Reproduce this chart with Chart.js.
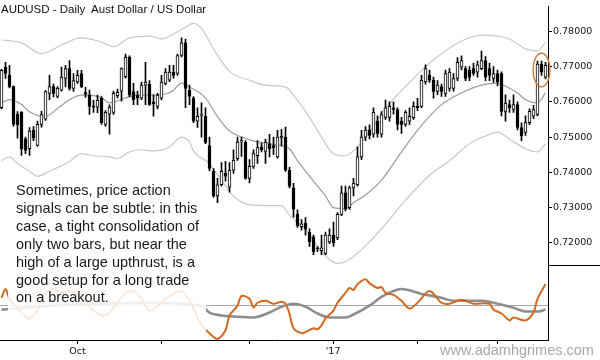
<!DOCTYPE html>
<html>
<head>
<meta charset="utf-8">
<script src="https://cdn.jsdelivr.net/npm/chart.js@4.4.0/dist/chart.umd.min.js"></script>
<style>
  html, body { margin: 0; padding: 0; background: #fff; }
  #wrap { position: relative; width: 600px; height: 360px; }
  #title { position: absolute; left: 1px; top: 3px; font: 11.5px/12px "Liberation Sans", Arial, sans-serif; color: #111; white-space: pre; }
  #note { position: absolute; left: 8px; top: 177px; width: 198px; height: 160px; box-sizing: border-box;
          padding: 5px 0 0 8px; background: rgba(255,255,255,0.86);
          font: 14.5px/17.9px "Liberation Sans", Arial, sans-serif; color: #1a1a1a; }
  #site { position: absolute; left: 440px; top: 342px; font: 14.5px/16px "Liberation Sans", Arial, sans-serif; color: #a8a8a8; }
</style>
</head>
<body>
<div id="wrap">
  <canvas id="audChart" width="600" height="360"></canvas>
  <div id="title">AUDUSD - Daily  Aust Dollar / US Dollar</div>
  <div id="note">Sometimes, price action<br>signals can be subtle: in this<br>case, a tight consolidation of<br>only two bars, but near the<br>high of a large upthrust, is a<br>good setup for a long trade<br>on a breakout.</div>
  <div id="site">www.adamhgrimes.com</div>
</div>
<script>
// daily bars, index 0 = first bar on the left
const opens = [
  0.7583,0.7698,0.7675,0.7643,0.7565,0.7570,0.7495,0.7467,0.7520,0.7476,
  0.7536,0.7551,0.7624,0.7643,0.7615,0.7633,0.7666,0.7694,0.7638,0.7656,
  0.7680,0.7626,0.7619,0.7588,0.7585,0.7610,0.7536,0.7565,0.7570,0.7617,
  0.7630,0.7671,0.7726,0.7629,0.7619,0.7610,0.7647,0.7650,0.7600,0.7587,
  0.7610,0.7652,0.7661,0.7684,0.7680,0.7731,0.7767,0.7633,0.7610,0.7545,
  0.7561,0.7559,0.7476,0.7403,0.7333,0.7365,0.7397,0.7358,0.7406,0.7439,
  0.7486,0.7486,0.7383,0.7417,0.7447,0.7472,0.7459,0.7481,0.7476,0.7444,
  0.7497,0.7500,0.7406,0.7356,0.7281,0.7246,0.7256,0.7231,0.7217,0.7186,
  0.7178,0.7170,0.7203,0.7222,0.7214,0.7281,0.7342,0.7300,0.7356,0.7365,
  0.7444,0.7500,0.7520,0.7508,0.7545,0.7508,0.7556,0.7556,0.7583,0.7578,
  0.7545,0.7536,0.7545,0.7555,0.7587,0.7587,0.7656,0.7675,0.7661,0.7629,
  0.7643,0.7624,0.7638,0.7638,0.7666,0.7698,0.7694,0.7689,0.7694,0.7684,
  0.7694,0.7717,0.7694,0.7666,0.7680,0.7680,0.7573,0.7592,0.7578,0.7592,
  0.7527,0.7513,0.7541,0.7559,0.7564,0.7707,0.7670
];
const highs = [
  0.7692,0.7712,0.7703,0.7645,0.7572,0.7572,0.7500,0.7527,0.7530,0.7545,
  0.7573,0.7632,0.7675,0.7650,0.7643,0.7698,0.7703,0.7717,0.7680,0.7689,
  0.7689,0.7641,0.7633,0.7604,0.7619,0.7615,0.7575,0.7591,0.7630,0.7636,
  0.7696,0.7735,0.7730,0.7652,0.7630,0.7656,0.7712,0.7660,0.7620,0.7624,
  0.7675,0.7694,0.7703,0.7703,0.7735,0.7781,0.7778,0.7647,0.7615,0.7583,
  0.7597,0.7583,0.7500,0.7411,0.7383,0.7428,0.7431,0.7428,0.7464,0.7500,
  0.7500,0.7490,0.7436,0.7464,0.7490,0.7483,0.7494,0.7508,0.7500,0.7519,
  0.7522,0.7528,0.7414,0.7369,0.7294,0.7266,0.7272,0.7240,0.7222,0.7190,
  0.7222,0.7231,0.7240,0.7259,0.7286,0.7361,0.7361,0.7361,0.7383,0.7472,
  0.7519,0.7530,0.7535,0.7583,0.7560,0.7572,0.7605,0.7600,0.7600,0.7583,
  0.7556,0.7575,0.7583,0.7600,0.7610,0.7675,0.7705,0.7690,0.7670,0.7660,
  0.7650,0.7690,0.7694,0.7680,0.7725,0.7730,0.7700,0.7700,0.7710,0.7715,
  0.7744,0.7728,0.7710,0.7700,0.7690,0.7685,0.7620,0.7605,0.7620,0.7600,
  0.7540,0.7560,0.7580,0.7590,0.7715,0.7715,0.7712
];
const lows = [
  0.7580,0.7666,0.7639,0.7530,0.7497,0.7448,0.7453,0.7448,0.7490,0.7474,
  0.7528,0.7547,0.7606,0.7614,0.7611,0.7630,0.7642,0.7633,0.7629,0.7652,
  0.7640,0.7612,0.7564,0.7570,0.7569,0.7536,0.7530,0.7508,0.7564,0.7611,
  0.7602,0.7667,0.7614,0.7592,0.7592,0.7606,0.7592,0.7590,0.7559,0.7580,
  0.7605,0.7648,0.7657,0.7666,0.7675,0.7727,0.7583,0.7592,0.7541,0.7527,
  0.7500,0.7481,0.7404,0.7329,0.7314,0.7361,0.7375,0.7344,0.7397,0.7434,
  0.7445,0.7381,0.7370,0.7411,0.7425,0.7458,0.7425,0.7444,0.7450,0.7440,
  0.7475,0.7403,0.7356,0.7273,0.7244,0.7236,0.7222,0.7190,0.7167,0.7175,
  0.7167,0.7167,0.7198,0.7190,0.7209,0.7277,0.7291,0.7295,0.7333,0.7361,
  0.7436,0.7490,0.7495,0.7500,0.7500,0.7500,0.7550,0.7545,0.7565,0.7520,
  0.7510,0.7530,0.7535,0.7550,0.7575,0.7583,0.7650,0.7655,0.7610,0.7620,
  0.7615,0.7615,0.7630,0.7630,0.7660,0.7690,0.7660,0.7660,0.7675,0.7670,
  0.7690,0.7660,0.7660,0.7655,0.7645,0.7560,0.7545,0.7570,0.7570,0.7520,
  0.7490,0.7505,0.7535,0.7552,0.7560,0.7675,0.7665
];
const closes = [
  0.7689,0.7680,0.7643,0.7536,0.7535,0.7467,0.7462,0.7517,0.7497,0.7536,
  0.7564,0.7629,0.7643,0.7624,0.7638,0.7670,0.7694,0.7638,0.7660,0.7675,
  0.7643,0.7622,0.7587,0.7585,0.7604,0.7541,0.7570,0.7585,0.7624,0.7627,
  0.7694,0.7726,0.7619,0.7606,0.7610,0.7647,0.7656,0.7592,0.7594,0.7619,
  0.7656,0.7684,0.7684,0.7675,0.7731,0.7767,0.7638,0.7615,0.7545,0.7559,
  0.7565,0.7485,0.7411,0.7333,0.7365,0.7403,0.7389,0.7406,0.7434,0.7486,
  0.7490,0.7383,0.7417,0.7453,0.7470,0.7464,0.7486,0.7467,0.7470,0.7500,
  0.7502,0.7406,0.7361,0.7296,0.7249,0.7254,0.7239,0.7203,0.7175,0.7183,
  0.7186,0.7222,0.7222,0.7200,0.7281,0.7342,0.7296,0.7356,0.7369,0.7444,
  0.7500,0.7520,0.7505,0.7570,0.7510,0.7564,0.7583,0.7587,0.7578,0.7536,
  0.7536,0.7570,0.7559,0.7587,0.7583,0.7661,0.7694,0.7661,0.7629,0.7647,
  0.7629,0.7680,0.7684,0.7666,0.7712,0.7717,0.7666,0.7670,0.7680,0.7705,
  0.7717,0.7670,0.7675,0.7680,0.7656,0.7573,0.7596,0.7583,0.7592,0.7527,
  0.7504,0.7541,0.7573,0.7578,0.7707,0.7684,0.7703
];

// bands: [bar index, price]
const upperBand = [[0,0.7775],[5,0.7767],[10,0.7736],[15,0.7761],[20,0.7781],[25,0.7769],[28,0.7756],
  [32,0.7781],[37,0.7786],[40,0.7778],[43,0.7792],[46,0.7811],[48,0.7822],[50,0.7808],[53,0.7750],
  [57,0.7686],[62,0.7661],[66,0.7647],[71,0.7642],[73,0.7619],[77,0.7556],[80,0.7500],[83,0.7453],
  [86,0.7447],[88,0.7461],[91,0.7500],[93,0.7531],[96,0.7583],[100,0.7631],[105,0.7689],[110,0.7736],
  [115,0.7772],[120,0.7789],[124,0.7786],[127,0.7778],[131,0.7750],[134,0.7744],[136,0.7769]];
const midBand = [[0,0.7597],[2,0.7606],[5,0.7592],[7,0.7572],[11,0.7558],[14,0.7581],[17,0.7606],
  [20,0.7619],[22,0.7619],[25,0.7611],[27,0.7597],[31,0.7611],[34,0.7619],[37,0.7619],[41,0.7622],
  [43,0.7633],[45,0.7653],[47,0.7642],[51,0.7611],[54,0.7558],[57,0.7517],[60,0.7500],[63,0.7489],
  [67,0.7481],[70,0.7475],[72,0.7467],[74,0.7433],[77,0.7389],[81,0.7333],[83,0.7300],[86,0.7297],
  [88,0.7314],[91,0.7336],[95,0.7378],[100,0.7458],[105,0.7533],[110,0.7592],[115,0.7625],
  [120,0.7647],[124,0.7653],[126,0.7644],[129,0.7625],[131,0.7606],[134,0.7597],[136,0.7625]];
const lowerBand = [[0,0.7433],[2,0.7444],[4,0.7425],[7,0.7403],[9,0.7389],[12,0.7403],[17,0.7431],
  [20,0.7453],[23,0.7447],[27,0.7444],[29,0.7439],[32,0.7458],[35,0.7464],[38,0.7461],[42,0.7472],
  [45,0.7500],[47,0.7486],[48,0.7461],[52,0.7425],[55,0.7378],[58,0.7333],[62,0.7308],[67,0.7306],
  [70,0.7306],[72,0.7278],[76,0.7239],[80,0.7175],[84,0.7142],[87,0.7153],[92,0.7203],[96,0.7253],
  [100,0.7308],[107,0.7392],[112,0.7433],[117,0.7481],[121,0.7503],[124,0.7514],[127,0.7494],
  [131,0.7467],[134,0.7458],[136,0.7481]];

// lower panel oscillators: [bar index, value]
const fastOsc = [[0,0.8],[1,1.7],[2,0.7],[5,-0.7],[7,-1.3],[9,-0.5],[11,1.3],[13,1.7],[15,1.3],[17,1.5],
  [20,0.9],[23,-0.5],[26,-1.0],[29,0.3],[31,1.3],[33,1.5],[35,0.7],[37,-0.5],[39,0.0],[42,1.0],[45,1.5],
  [47,0.5],[50,-2.0],[52,-2.8],[54,-3.4],[56,-2.5],[57,-1.0],[59,0.0],[60,1.0],[62,0.7],[63,-0.2],
  [64,0.3],[66,0.5],[68,0.2],[69,0.3],[70,0.4],[71,0.2],[72,-0.8],[73,-2.3],[75,-2.8],[76,-2.7],
  [78,-2.3],[79,-2.4],[80,-2.0],[81,-1.3],[83,-0.5],[84,0.3],[86,1.3],[87,1.8],[88,1.6],[89,2.2],
  [91,2.7],[92,2.3],[94,1.8],[95,1.9],[96,1.3],[98,1.1],[100,0.5],[102,-0.3],[104,0.3],[107,1.5],
  [110,0.3],[112,0.2],[115,0.6],[118,0.2],[122,0.2],[123,-0.4],[125,-0.8],[127,-1.5],[128,-1.2],
  [131,-1.5],[133,-0.7],[134,0.7],[136,2.2]];
const slowOsc = [[0,-0.4],[12,0.0],[25,0.2],[37,0.3],[50,0.0],[52,-0.7],[55,-1.0],[58,-1.1],[63,-1.2],
  [67,-0.7],[70,-0.1],[73,0.2],[76,-0.1],[79,-0.8],[82,-1.2],[86,-1.2],[88,-0.9],[92,0.0],[95,0.9],
  [98,1.5],[100,1.7],[105,1.2],[110,0.8],[113,0.5],[120,0.5],[124,0.2],[128,-0.2],[131,-0.6],
  [134,-0.6],[136,-0.4]];

const priceTicks = [0.72, 0.73, 0.74, 0.75, 0.76, 0.77, 0.78];
const monthTicks = [19, 40.1, 61.9, 82.9, 103.9, 123.9];
const monthLabels = ['Oct', '', '', "'17", '', ''];
const circledBars = [134, 135, 136];

const pts = arr => arr.map(([i, v]) => ({ x: i, y: v }));

const extras = {
  id: 'extras',
  afterDatasetsDraw(chart) {
    const { ctx, scales: { x, y } } = chart;
    const a = circledBars[0], b = circledBars[circledBars.length - 1];
    const x0 = x.getPixelForValue(a), x1 = x.getPixelForValue(b);
    let hi = -Infinity, lo = Infinity;
    circledBars.forEach(i => { hi = Math.max(hi, highs[i]); });
    circledBars.slice(1).forEach(i => { lo = Math.min(lo, lows[i]); });
    const yTop = y.getPixelForValue(hi), yBot = y.getPixelForValue(lo);
    ctx.save();
    ctx.strokeStyle = '#cf7b3a';
    ctx.lineWidth = 1.4;
    ctx.beginPath();
    ctx.ellipse((x0 + x1) / 2, (yTop + yBot) / 2, (x1 - x0) / 2 + 4.5, (yBot - yTop) / 2 + 8, 0, 0, Math.PI * 2);
    ctx.stroke();
    ctx.restore();
  },
  afterDraw(chart) {
    const { ctx, chartArea } = chart;
    const yy = Math.round(chart.scales.y2.top) + 0.5;
    ctx.save();
    ctx.strokeStyle = '#000';
    ctx.lineWidth = 1;
    ctx.beginPath();
    ctx.moveTo(chartArea.right, yy);
    ctx.lineTo(chart.width, yy);
    ctx.stroke();
    ctx.restore();
  }
};

Chart.defaults.font.family = '"DejaVu Sans", sans-serif';
Chart.defaults.font.size = 9.5;
Chart.defaults.color = '#111';

new Chart(document.getElementById('audChart').getContext('2d'), {
  type: 'bar',
  data: {
    datasets: [
      {
        label: 'body',
        data: opens.map((o, i) => ({ x: i, y: [o, closes[i]] })),
        backgroundColor: opens.map((o, i) => closes[i] >= o ? '#ffffff' : '#000000'),
        borderColor: '#000',
        borderWidth: 1,
        borderSkipped: false,
        barThickness: 3,
        grouped: false,
        order: 1,
        yAxisID: 'y'
      },
      {
        label: 'wick',
        data: lows.map((l, i) => ({ x: i, y: [l, highs[i]] })),
        backgroundColor: '#000',
        barThickness: 1,
        grouped: false,
        order: 2,
        yAxisID: 'y'
      },
      {
        type: 'line', label: 'upper', data: pts(upperBand), yAxisID: 'y', order: 3,
        borderColor: '#c9c9c9', borderWidth: 1.2, pointRadius: 0, cubicInterpolationMode: 'monotone'
      },
      {
        type: 'line', label: 'mid', data: pts(midBand), yAxisID: 'y', order: 3,
        borderColor: '#9c9c9c', borderWidth: 1.2, pointRadius: 0, cubicInterpolationMode: 'monotone'
      },
      {
        type: 'line', label: 'lower', data: pts(lowerBand), yAxisID: 'y', order: 3,
        borderColor: '#c9c9c9', borderWidth: 1.2, pointRadius: 0, cubicInterpolationMode: 'monotone'
      },
      {
        type: 'line', label: 'slow', data: pts(slowOsc), yAxisID: 'y2', order: 4,
        borderColor: '#8e8e8e', borderWidth: 2.6, pointRadius: 0, cubicInterpolationMode: 'monotone'
      },
      {
        type: 'line', label: 'fast', data: pts(fastOsc), yAxisID: 'y2', order: 3,
        borderColor: '#d2691e', borderWidth: 2, pointRadius: 0, tension: 0.3
      }
    ]
  },
  options: {
    responsive: false,
    animation: false,
    layout: { padding: 0 },
    plugins: { legend: { display: false }, tooltip: { enabled: false } },
    scales: {
      x: {
        type: 'linear',
        min: -0.375,
        max: 136.625,
        bounds: 'data',
        offset: false,
        afterBuildTicks: s => { s.ticks = monthTicks.map(v => ({ value: v })); },
        afterFit: s => { s.height = 20; },
        ticks: {
          autoSkip: false, maxRotation: 0, padding: 2,
          callback: v => { const k = monthTicks.indexOf(v); return k >= 0 ? monthLabels[k] : ''; }
        },
        grid: { drawOnChartArea: false, drawTicks: true, tickLength: 4, tickColor: '#000', offset: false },
        border: { display: true, color: '#000' }
      },
      y: {
        type: 'linear',
        position: 'right',
        stack: 'panes',
        stackWeight: 264,
        min: 0.71361,
        max: 0.78694,
        bounds: 'data',
        afterBuildTicks: s => { s.ticks = priceTicks.map(v => ({ value: v })); },
        afterFit: s => { s.width = 52; },
        ticks: { padding: 1, callback: v => v.toFixed(5) },
        grid: { drawOnChartArea: false, drawTicks: true, tickLength: 4, tickColor: '#000' },
        border: { display: true, color: '#000' }
      },
      y2: {
        type: 'linear',
        position: 'right',
        stack: 'panes',
        stackWeight: 76,
        min: -3.5,
        max: 4.1,
        bounds: 'data',
        afterBuildTicks: s => { s.ticks = [{ value: 0 }]; },
        afterFit: s => { s.width = 52; },
        ticks: { display: false },
        grid: { drawOnChartArea: true, drawTicks: false, color: '#a9a9a9', lineWidth: 1 },
        border: { display: true, color: '#000' }
      }
    }
  },
  plugins: [extras]
});
</script>
</body>
</html>
